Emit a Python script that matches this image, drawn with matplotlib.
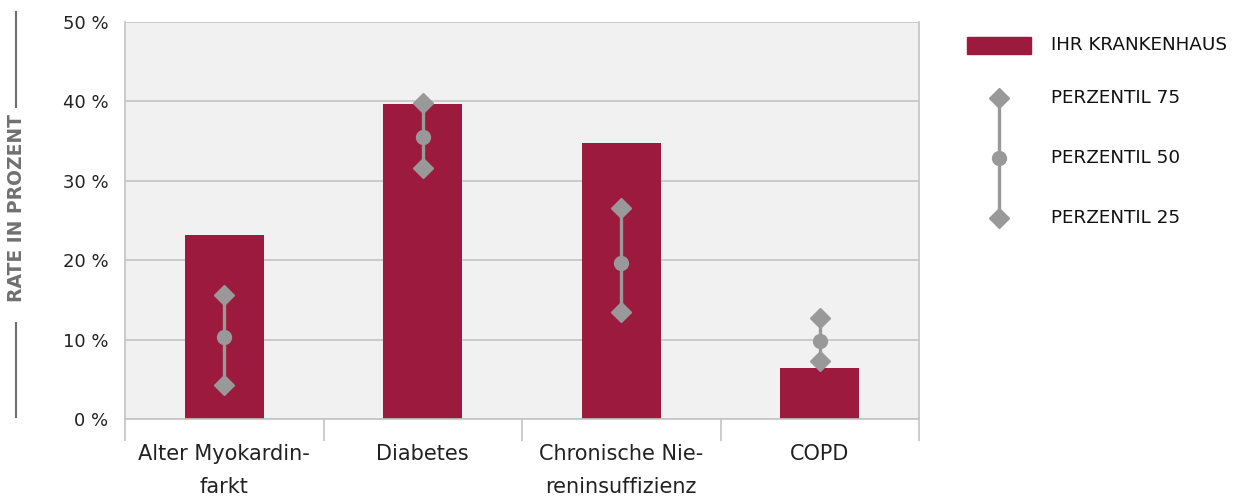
import numpy as np
import matplotlib
matplotlib.use("Agg")
import matplotlib.pyplot as plt
from matplotlib.lines import Line2D
from matplotlib.patches import Rectangle

categories = ["Alter Myokardin-\nfarkt", "Diabetes", "Chronische Nie-\nreninsuffizienz", "COPD"]
hospital = [23.2, 39.7, 34.8, 6.4]
p75 = [15.6, 39.8, 26.6, 12.7]
p50 = [10.3, 35.5, 19.6, 9.8]
p25 = [4.3, 31.6, 13.5, 7.3]
yticks = [0, 10, 20, 30, 40, 50]

BAR = "#9b1a3e"
GREY = "#999999"
TXT = "#222222"

fig = plt.figure(figsize=(12.38, 5.0), dpi=100)
ax = fig.add_axes([125 / 1238, 81 / 500, 794 / 1238, 397 / 500])
ax.set_facecolor("#f1f1f1")

x = np.arange(len(categories))
ax.bar(x, hospital, width=0.4, color=BAR, zorder=2)
ax.vlines(x, p25, p75, color=GREY, lw=2.4, zorder=3)
ax.plot(x, p75, "D", color=GREY, ms=10.5, zorder=4, ls="none")
ax.plot(x, p25, "D", color=GREY, ms=10.5, zorder=4, ls="none")
ax.plot(x, p50, "o", color=GREY, ms=10, zorder=4, ls="none")

ax.set_xlim(-0.5, len(categories) - 0.5)
ax.set_ylim(0, 50)
ax.set_yticks(yticks)
ax.set_yticklabels([f"{v} %" for v in yticks], fontsize=13, color=TXT)
ax.grid(axis="y", color="#c4c4c4", lw=1.2, zorder=1)
ax.tick_params(axis="y", length=0, pad=12)

ax.set_xticks(np.arange(len(categories) + 1) - 0.5, minor=False)
ax.set_xticklabels([])
ax.tick_params(axis="x", which="major", length=16, color="#c4c4c4", width=1.2, direction="out")
ax.set_xticks(x, minor=True)
ax.set_xticklabels(categories, minor=True, fontsize=15, color=TXT, linespacing=1.8)
ax.tick_params(axis="x", which="minor", length=0, pad=18)

ax.spines["top"].set_visible(False)
for s in ["left", "right", "bottom"]:
    ax.spines[s].set_color("#c4c4c4")
    ax.spines[s].set_linewidth(1.2)

# y-axis label with lines above and below
fig.text(17 / 1238, 1 - 208 / 500, "RATE IN PROZENT", rotation=90, ha="center", va="center",
         fontsize=13.5, fontweight="bold", color="#707070")
fig.add_artist(Line2D([16 / 1238] * 2, [1 - 12 / 500, 1 - 107 / 500], color="#6e6e6e", lw=1.5))
fig.add_artist(Line2D([16 / 1238] * 2, [1 - 323 / 500, 1 - 417 / 500], color="#6e6e6e", lw=1.5))

# legend drawn in its own pixel-space axes
lg = fig.add_axes([940 / 1238, 0, 298 / 1238, 1])
lg.set_xlim(940, 1238)
lg.set_ylim(500, 0)
lg.axis("off")
lg.add_patch(Rectangle((967, 37), 64, 17, color=BAR))
lg.plot([999, 999], [98, 218], color=GREY, lw=2.4)
lg.plot([999, 999], [98, 218], "D", color=GREY, ms=10.5)
lg.plot([999], [158], "o", color=GREY, ms=10)
for yy, lab in [(45, "IHR KRANKENHAUS"), (98, "PERZENTIL 75"), (158, "PERZENTIL 50"), (218, "PERZENTIL 25")]:
    lg.text(1051, yy, lab, va="center", ha="left", fontsize=13.2, color="#111111")

fig.savefig("out.png", dpi=100)
